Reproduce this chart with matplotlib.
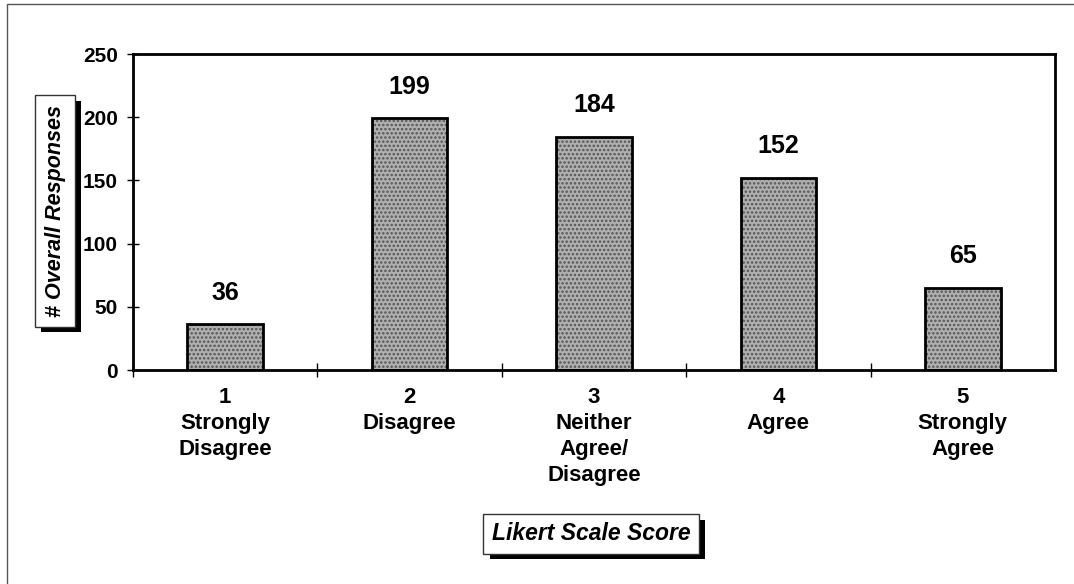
import matplotlib
matplotlib.use('Agg')
import matplotlib.pyplot as plt
import matplotlib.patheffects as pe
from matplotlib.patches import Rectangle

# data
scores = [1, 2, 3, 4, 5]
responses = [36, 199, 184, 152, 65]
score_labels = ['1\nStrongly\nDisagree', '2\nDisagree', '3\nNeither\nAgree/\nDisagree',
                '4\nAgree', '5\nStrongly\nAgree']
y_ticks = [0, 50, 100, 150, 200, 250]

plt.rcParams['font.family'] = ['Liberation Sans', 'DejaVu Sans']
plt.rcParams['font.weight'] = 'bold'
plt.rcParams['hatch.linewidth'] = 1.2

W, H = 1074, 584
fig = plt.figure(figsize=(W / 100, H / 100), dpi=100)

# outer frame of the page
fig.patches.append(Rectangle((7 / W, -0.01), 1.1, 1 - 4 / H + 0.01, transform=fig.transFigure,
                             fill=False, edgecolor='#555555', linewidth=1))

ax = fig.add_axes([133 / W, (H - 370) / H, 922 / W, 316 / H])

# stippled grey fill, then the black outline
ax.bar(scores, responses, width=0.41, color='#b0b0b0', edgecolor='#555555', linewidth=0,
       hatch='....', zorder=2)
ax.bar(scores, responses, width=0.41, fill=False, edgecolor='black', linewidth=2, zorder=3)

for x, v in zip(scores, responses):
    ax.annotate(str(v), (x, v), xytext=(0, 23), textcoords='offset points',
                ha='center', va='center', fontsize=18, fontweight='bold')

ax.set_xlim(0.5, 5.5)
ax.set_ylim(0, 250)
ax.set_yticks(y_ticks)
ax.tick_params(axis='y', direction='inout', length=8, width=1, labelsize=15, pad=7)

# ticks at category boundaries, labels at the bar centres
ax.set_xticks([0.5, 1.5, 2.5, 3.5, 4.5])
ax.set_xticklabels([])
ax.tick_params(axis='x', which='major', direction='inout', length=10, width=1)
ax.set_xticks(scores, minor=True)
ax.set_xticklabels(score_labels, minor=True, fontsize=16, fontweight='bold', linespacing=1.32)
ax.tick_params(axis='x', which='minor', length=0, pad=12)

for s in ax.spines.values():
    s.set_linewidth(2)

shadow = [pe.SimplePatchShadow(offset=(4.5, -4), shadow_rgbFace='black', alpha=1.0), pe.Normal()]

ylab = fig.text(55 / W, 1 - 211 / H, '# Overall Responses', rotation=90, ha='center', va='center',
                fontsize=15.5, fontweight='bold', fontstyle='italic',
                bbox=dict(boxstyle='square,pad=0.45', facecolor='white', edgecolor='#333333', linewidth=1))
ylab.get_bbox_patch().set_path_effects(shadow)

xlab = fig.text(591 / W, 1 - 534 / H, 'Likert Scale Score', ha='center', va='center',
                fontsize=16.5, fontweight='bold', fontstyle='italic',
                bbox=dict(boxstyle='square,pad=0.36', facecolor='white', edgecolor='#333333', linewidth=1))
xlab.get_bbox_patch().set_path_effects(shadow)

fig.savefig('out.png', dpi=100)
